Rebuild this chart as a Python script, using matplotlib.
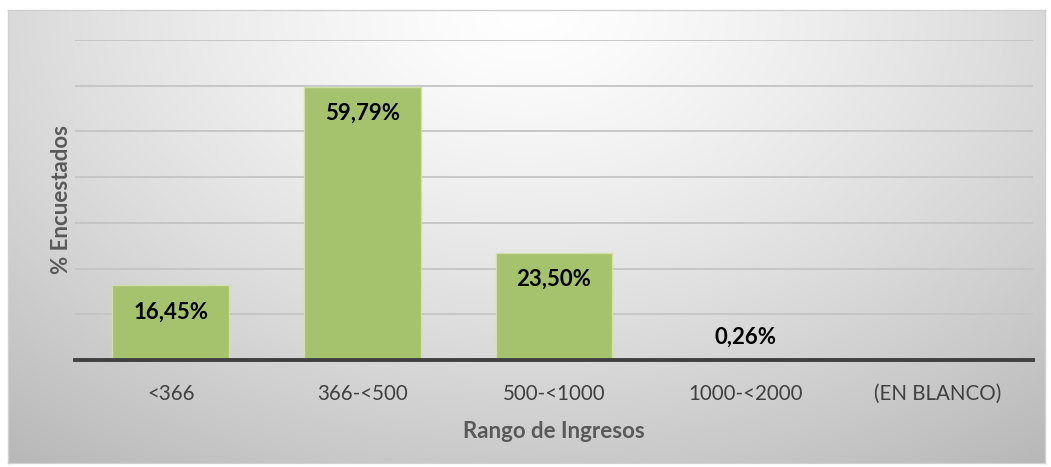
import numpy as np
import matplotlib
matplotlib.use("Agg")
import matplotlib.pyplot as plt

categorias = ["<366", "366-<500", "500-<1000", "1000-<2000", "(EN BLANCO)"]
porcentajes = [16.45, 59.79, 23.50, 0.26, 0.0]
etiquetas = ["16,45%", "59,79%", "23,50%", "0,26%", ""]

plt.rcParams['font.family'] = ['Lato', 'DejaVu Sans']

W, H = 1051, 467
fig = plt.figure(figsize=(W / 100, H / 100), dpi=100)
fig.patch.set_facecolor("white")

# fondo del grafico: degradado radial, claro arriba al centro
bg = fig.add_axes([8 / W, 1 - 463 / H, (1045 - 8) / W, (463 - 10) / H])
yy, xx = np.mgrid[0:1:300j, 0:1:700j]
d = np.sqrt(((xx - 0.5) / 0.75) ** 2 + (yy / 1.15) ** 2)
g = 1.0 - 0.25 * np.clip(d, 0, 1.2) ** 1.3
bg.imshow(np.dstack([g, g, g]), aspect="auto", extent=[0, 1, 1, 0])
bg.set_xticks([])
bg.set_yticks([])
for s in bg.spines.values():
    s.set_color("#d0d0d0")
    s.set_linewidth(1)
bg.set_zorder(0)

ax = fig.add_axes([75 / W, 1 - 360 / H, (1033 - 75) / W, (360 - 40) / H])
ax.set_zorder(1)
ax.patch.set_alpha(0)

x = np.arange(len(categorias))
ax.bar(x, porcentajes, width=0.61, color="#a5c26c", edgecolor="#cfe0a8",
       linewidth=1, zorder=2)

ax.set_xlim(-0.5, len(categorias) - 0.5)
ax.set_ylim(0, 70)
ax.set_yticks(np.arange(10, 71, 10))
ax.yaxis.grid(True, color="#c4c4c4", linewidth=1.3)
ax.set_axisbelow(True)
ax.tick_params(axis="y", left=False, labelleft=False)
ax.tick_params(axis="x", bottom=False, pad=14, labelsize=14.8, labelcolor="#404040")
ax.set_xticks(x)
ax.set_xticklabels(categorias)
for k in ["top", "right", "left"]:
    ax.spines[k].set_visible(False)
ax.spines["bottom"].set_color("#404040")
ax.spines["bottom"].set_linewidth(2.8)
ax.spines["bottom"].set_zorder(3)

for xi, v, t in zip(x, porcentajes, etiquetas):
    if t:
        ax.annotate(t, (xi, max(v, 11)), xytext=(0, -27), textcoords="offset pixels",
                    ha="center", va="center", fontsize=16, fontweight="bold",
                    color="black", zorder=4)

ax.set_xlabel("Rango de Ingresos", fontsize=16, fontweight="bold",
              color="#595959", labelpad=12)
ax.set_ylabel("% Encuestados", fontsize=16, fontweight="bold",
              color="#595959", labelpad=2)

fig.savefig("out.png", dpi=100)
